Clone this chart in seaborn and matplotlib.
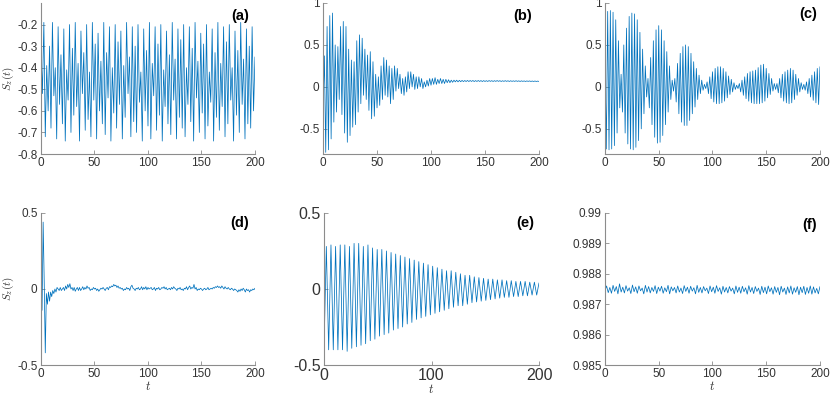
import numpy as np
import matplotlib.pyplot as plt
from matplotlib.ticker import FuncFormatter
import seaborn as sns

# S_z(t) for the six cases (peaks / troughs)
a_vals = [
    -0.32, -0.52, -0.19, -0.72, -0.39, -0.60, -0.30, -0.68, -0.19, -0.53, -0.40, -0.73,
    -0.21, -0.57, -0.34, -0.66, -0.22, -0.74, -0.41, -0.55, -0.20, -0.70, -0.31, -0.62,
    -0.19, -0.58, -0.38, -0.74, -0.23, -0.52, -0.33, -0.69, -0.20, -0.64, -0.42, -0.72,
    -0.19, -0.55, -0.29, -0.73, -0.24, -0.60, -0.37, -0.66, -0.19, -0.71, -0.33, -0.54,
    -0.21, -0.74, -0.40, -0.61, -0.20, -0.68, -0.28, -0.57, -0.23, -0.73, -0.39, -0.63,
    -0.19, -0.52, -0.35, -0.72, -0.21, -0.65, -0.30, -0.70, -0.20, -0.56, -0.42, -0.74,
    -0.22, -0.60, -0.32, -0.67, -0.19, -0.73, -0.38, -0.53, -0.21, -0.69, -0.29, -0.62,
    -0.20, -0.74, -0.41, -0.58, -0.23, -0.66, -0.34, -0.71, -0.19, -0.55, -0.36, -0.73,
    -0.22, -0.63, -0.27, -0.68, -0.20, -0.72, -0.40, -0.57, -0.21, -0.65, -0.31, -0.74,
    -0.19, -0.54, -0.37, -0.70, -0.24, -0.61, -0.29, -0.73, -0.20, -0.67, -0.42, -0.56,
    -0.22, -0.74, -0.33, -0.63, -0.19, -0.69, -0.38, -0.58, -0.21, -0.72, -0.28, -0.66,
    -0.20, -0.55, -0.40, -0.74, -0.23, -0.62, -0.32, -0.70, -0.19, -0.57, -0.36, -0.73,
    -0.22, -0.66, -0.30, -0.68, -0.21, -0.60, -0.35,
]

b_vals = [
    -0.25, 0.37, -0.78, 0.72, -0.75, 0.85, -0.62, 0.88, -0.42, 0.50, -0.30, 0.48,
    -0.15, 0.72, -0.33, 0.78, -0.55, 0.72, -0.66, 0.45, -0.58, 0.32, -0.48, 0.30,
    -0.45, 0.55, -0.30, 0.62, -0.20, 0.58, -0.10, 0.45, -0.15, 0.38, -0.28, 0.42,
    -0.38, 0.30, -0.35, 0.15, -0.25, 0.12, -0.22, 0.25, -0.15, 0.35, -0.10, 0.32,
    -0.12, 0.25, -0.20, 0.22, -0.15, 0.25, -0.05, 0.22, -0.02, 0.15, -0.08, 0.10,
    -0.10, 0.12, -0.06, 0.18, -0.02, 0.18, 0.00, 0.15, -0.03, 0.12, -0.02, 0.12,
    0.00, 0.10, -0.02, 0.06, 0.00, 0.08, 0.01, 0.10, 0.02, 0.10, 0.03, 0.11,
    0.03, 0.09, 0.04, 0.10, 0.04, 0.09, 0.04, 0.09, 0.05, 0.085, 0.05, 0.08,
    0.055, 0.08, 0.06, 0.08, 0.06, 0.078, 0.062,
    0.077, 0.063, 0.076, 0.064, 0.077, 0.064, 0.076, 0.065, 0.076, 0.064,
    0.075, 0.065, 0.076, 0.065, 0.075, 0.064, 0.075, 0.065, 0.074, 0.065,
    0.075, 0.066, 0.074, 0.065, 0.074, 0.066, 0.075, 0.066, 0.074, 0.065,
    0.073, 0.066, 0.074, 0.066, 0.073, 0.065, 0.073, 0.066, 0.072, 0.066,
    0.073, 0.066, 0.072, 0.065, 0.072, 0.066, 0.071, 0.065, 0.071, 0.066,
    0.071, 0.065, 0.070, 0.065, 0.070, 0.065, 0.069, 0.065,
]

c_vals = [
    0.30, -0.74, 0.90, -0.75, 0.91, -0.74, 0.89, -0.70, 0.80, -0.55, 0.55, -0.25,
    0.15, -0.30, 0.50, -0.55, 0.70, -0.68, 0.84, -0.74, 0.88, -0.75, 0.87, -0.72,
    0.80, -0.64, 0.65, -0.50, 0.45, -0.32, 0.25, -0.12, 0.10, -0.25, 0.35, -0.45,
    0.55, -0.60, 0.68, -0.67, 0.73, -0.66, 0.68, -0.58, 0.55, -0.45, 0.42, -0.30,
    0.25, -0.15, 0.08, -0.05, 0.10, -0.18, 0.28, -0.32, 0.40, -0.42, 0.48, -0.46,
    0.50, -0.46, 0.48, -0.40, 0.40, -0.32, 0.30, -0.24, 0.22, -0.15, 0.14, -0.08,
    0.08, -0.04, 0.03, -0.02, 0.06, -0.08, 0.12, -0.14, 0.18, -0.18, 0.22, -0.20,
    0.24, -0.20, 0.24, -0.19, 0.22, -0.17, 0.18, -0.13, 0.13, -0.09, 0.09, -0.06,
    0.05, -0.03, 0.02, -0.02, 0.04, -0.06, 0.08, -0.10, 0.12, -0.14, 0.16, -0.17,
    0.18, -0.19, 0.19, -0.20, 0.20, -0.20, 0.23, -0.20, 0.26, -0.19, 0.27, -0.17,
    0.22, -0.13, 0.16, -0.09, 0.10, -0.05, 0.04, -0.03, 0.04, -0.07, 0.10, -0.13,
    0.15, -0.17, 0.18, -0.19, 0.20, -0.20, 0.22, -0.19, 0.20, -0.15, 0.15, -0.10,
    0.10, -0.06, 0.05, -0.03, 0.03, -0.04, 0.06, -0.08, 0.10, -0.12, 0.14, -0.16,
    0.18, -0.19, 0.22, -0.21, 0.24,
]

d_vals = [
    0.32, -0.14, 0.44, 0.05, -0.42, -0.03, -0.10, -0.02, -0.08, -0.02, -0.05, -0.01, -0.03, 0.00, -0.02, 0.01,
    0.00, -0.01, 0.01, -0.01, 0.00, 0.01, -0.01, 0.02, 0.00, 0.03, 0.01, 0.035, 0.00, 0.01, -0.01, 0.01, -0.015, 0.00, 0.01, -0.01,
    0.01, -0.01, 0.00, 0.015, -0.005, 0.01, 0.00, 0.02, 0.005, 0.01, -0.01, 0.00, -0.005, 0.01, 0.00, 0.005, -0.01, 0.00, -0.015, -0.005,
    0.005, 0.00, 0.01, 0.00, -0.01, 0.005, 0.01, -0.005, 0.015, 0.01, 0.02, 0.015, 0.03, 0.02, 0.025, 0.01, 0.02, 0.005, 0.01, 0.00,
    0.005, -0.01, 0.00, -0.005, 0.01, 0.00, 0.005, -0.01, 0.015, 0.025, 0.005, 0.00, -0.01, 0.005, 0.00, 0.01, -0.005, 0.00, 0.015, -0.005,
    0.01, 0.00, 0.015, -0.005, 0.01, 0.00, 0.005, 0.01, -0.005, 0.00, 0.01, -0.01, 0.005, 0.00, 0.01, -0.005, 0.00, 0.01, 0.005, 0.015,
    0.00, 0.01, -0.005, 0.00, 0.005, -0.005, 0.01, 0.00, 0.015, 0.005, 0.00, -0.01, 0.005, 0.00, 0.01, -0.005, 0.00, -0.01, 0.005, 0.00,
    0.015, -0.005, 0.01, 0.02, 0.00, 0.01, 0.005, 0.03, 0.00, 0.01, -0.01, 0.00, -0.005, 0.005, 0.00, -0.01, 0.00, 0.005, -0.005, 0.00,
    0.01, -0.005, 0.00, 0.005, 0.00, 0.01, 0.005, 0.015, 0.01, 0.02, 0.01, 0.015, 0.005, 0.02, 0.01, 0.00, 0.015, 0.005, 0.00, 0.01,
    0.00, -0.005, 0.005, 0.00, -0.01, 0.00, -0.005, -0.01, -0.02, -0.005, -0.015, 0.00, -0.01, 0.005, -0.005, -0.02, 0.00, -0.01, -0.005, -0.02,
    -0.005, -0.01, 0.00, -0.005, 0.005,
]

e_vals = [
    -0.39, 0.28, -0.40, 0.29, -0.40, 0.28, -0.40, 0.29, -0.40, 0.29, -0.41, 0.28,
    -0.39, 0.30, -0.38, 0.30, -0.37, 0.28, -0.36, 0.29, -0.34, 0.27, -0.33, 0.26,
    -0.31, 0.26, -0.30, 0.25, -0.29, 0.24, -0.27, 0.23, -0.26, 0.22, -0.25, 0.21,
    -0.23, 0.20, -0.22, 0.19, -0.20, 0.18, -0.19, 0.17, -0.18, 0.16, -0.17, 0.15,
    -0.16, 0.14, -0.15, 0.13, -0.14, 0.12, -0.13, 0.12, -0.12, 0.11, -0.11, 0.10,
    -0.11, 0.09, -0.10, 0.09, -0.09, 0.08, -0.085, 0.075, -0.08, 0.07, -0.075, 0.065,
    -0.07, 0.065, -0.065, 0.06, -0.06, 0.06, -0.055, 0.055, -0.055, 0.055, -0.05, 0.05,
    -0.05, 0.05, -0.045, 0.05, -0.045, 0.045, -0.04, 0.045, -0.04, 0.04,
]

f_vals = [
    0.98745, 0.98760, 0.98738, 0.98755, 0.98736, 0.98762, 0.98742, 0.98758, 0.98734, 0.98767,
    0.98740, 0.98756, 0.98737, 0.98761, 0.98743, 0.98754, 0.98735, 0.98763, 0.98741, 0.98757,
    0.98736, 0.98760, 0.98744, 0.98753, 0.98734, 0.98762, 0.98740, 0.98758, 0.98737, 0.98755,
    0.98742, 0.98761, 0.98735, 0.98756, 0.98743, 0.98759, 0.98736, 0.98754, 0.98741, 0.98762,
    0.98734, 0.98757, 0.98744, 0.98755, 0.98737, 0.98760, 0.98740, 0.98753, 0.98735, 0.98761,
    0.98742, 0.98756, 0.98736, 0.98759, 0.98743, 0.98754, 0.98734, 0.98762, 0.98739, 0.98755,
    0.98737, 0.98758, 0.98744, 0.98753, 0.98735, 0.98760, 0.98741, 0.98756, 0.98736, 0.98761,
    0.98742, 0.98754, 0.98733, 0.98759, 0.98740, 0.98755, 0.98737, 0.98758, 0.98743, 0.98753,
    0.98734, 0.98760, 0.98739, 0.98756, 0.98736, 0.98759, 0.98741, 0.98754, 0.98733, 0.98761,
    0.98740, 0.98755, 0.98735, 0.98758, 0.98742, 0.98753, 0.98732, 0.98759, 0.98738, 0.98756,
    0.98734, 0.98760, 0.98741, 0.98754, 0.98733, 0.98758, 0.98739, 0.98755, 0.98731, 0.98759,
    0.98740, 0.98753, 0.98732, 0.98757, 0.98737, 0.98760, 0.98733, 0.98754, 0.98739, 0.98758,
    0.98731, 0.98756, 0.98738, 0.98759, 0.98732, 0.98755, 0.98736, 0.98760, 0.98733, 0.98757,
    0.98737, 0.98752, 0.98734, 0.98758,
]

panel_labels = ['(a)', '(b)', '(c)', '(d)', '(e)', '(f)']
t_max = 200

sns.set_style('ticks')
plt.rcParams['font.family'] = ['Liberation Sans', 'DejaVu Sans']
plt.rcParams['mathtext.fontset'] = 'cm'
plt.rcParams['axes.unicode_minus'] = False
plt.rcParams['xtick.direction'] = 'in'
plt.rcParams['ytick.direction'] = 'in'

line_color = '#0072BD'
spine_color = '#8c8c8c'
text_color = '#333333'

fig = plt.figure(figsize=(8.3, 3.99), dpi=100)

rects = [
    [0.0494, 0.614, 0.2578, 0.3785],
    [0.3892, 0.614, 0.2602, 0.3785],
    [0.7289, 0.614, 0.2590, 0.3785],
    [0.0494, 0.0852, 0.2578, 0.381],
    [0.3904, 0.0852, 0.2590, 0.381],
    [0.7289, 0.0852, 0.2590, 0.381],
]
series = [a_vals, b_vals, c_vals, d_vals, e_vals, f_vals]
ylims = [(-0.8, -0.1), (-0.8, 1), (-0.8, 1), (-0.5, 0.5), (-0.5, 0.5), (0.985, 0.99)]
yticks = [
    [-0.8, -0.7, -0.6, -0.5, -0.4, -0.3, -0.2],
    [-0.5, 0, 0.5, 1],
    [-0.5, 0, 0.5, 1],
    [-0.5, 0, 0.5],
    [-0.5, 0, 0.5],
    [0.985, 0.986, 0.987, 0.988, 0.989, 0.99],
]
label_pos = [(0.93, 0.916), (0.926, 0.916), (0.944, 0.93),
             (0.93, 0.932), (0.935, 0.932), (0.953, 0.92)]

fmt = FuncFormatter(lambda v, p: '%g' % round(v, 6))

for i, vals in enumerate(series):
    ax = fig.add_axes(rects[i])
    t = np.linspace(0, t_max, len(vals))
    sns.lineplot(x=t, y=vals, ax=ax, color=line_color, linewidth=0.55)

    ax.set_xlim(0, t_max)
    ax.set_ylim(*ylims[i])
    ax.set_yticks(yticks[i])
    if i == 4:
        ax.set_xticks([0, 100, 200])
        tick_size = 11.5
    else:
        ax.set_xticks([0, 50, 100, 150, 200])
        tick_size = 8.5
    ax.xaxis.set_major_formatter(fmt)
    ax.yaxis.set_major_formatter(fmt)
    ax.tick_params(labelsize=tick_size, colors=spine_color, labelcolor=text_color,
                   length=3, width=0.6, pad=2.5)

    sns.despine(ax=ax)
    for side in ['left', 'bottom']:
        ax.spines[side].set_color(spine_color)
        ax.spines[side].set_linewidth(0.8)

    ax.text(label_pos[i][0], label_pos[i][1], panel_labels[i], transform=ax.transAxes,
            ha='center', va='center', fontsize=10.5, fontweight='bold', color='black')

    if i in (0, 3):
        ax.set_ylabel(r'$S_z(t)$', fontsize=8, color=text_color)
        ax.yaxis.set_label_coords(-0.118, 0.5)
    else:
        ax.set_ylabel('')
    if i >= 3:
        ax.set_xlabel(r'$t$', fontsize=9, color=text_color, labelpad=0)

fig.savefig('out.png', dpi=100)
